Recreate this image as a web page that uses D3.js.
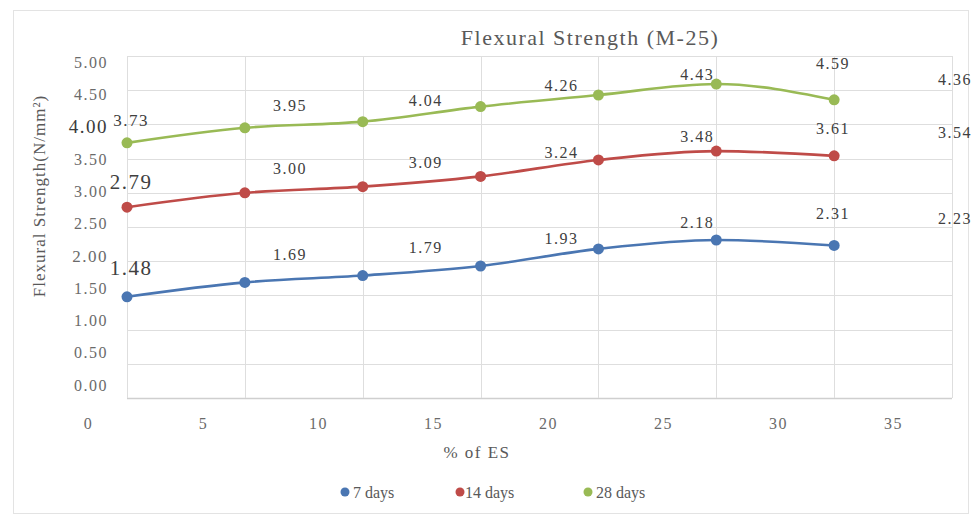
<!DOCTYPE html>
<html>
<head>
<meta charset="utf-8">
<script src="https://cdn.jsdelivr.net/npm/d3@7"></script>
<style>
  html, body { margin: 0; padding: 0; background: #fff; }
  svg { display: block; }
</style>
</head>
<body>
<svg id="chart" width="971" height="515" font-family="'Liberation Serif', 'DejaVu Serif', serif"></svg>
<script>
// Percentage of ES replacement
const esPercent = [0, 5, 10, 15, 20, 25, 30];
// Flexural strength (N/mm²) at each curing age
const days7  = [1.48, 1.69, 1.79, 1.93, 2.18, 2.31, 2.23];
const days14 = [2.79, 3.00, 3.09, 3.24, 3.48, 3.61, 3.54];
const days28 = [3.73, 3.95, 4.04, 4.26, 4.43, 4.59, 4.36];
const seriesNames = ["7 days", "14 days", "28 days"];
const xTickValues = [0, 5, 10, 15, 20, 25, 30, 35];
const yTickValues = [0, 0.5, 1, 1.5, 2, 2.5, 3, 3.5, 4, 4.5, 5];

const FONT = "'Liberation Serif', 'DejaVu Serif', serif";
const colors = ["#4a76b2", "#bf4b48", "#99ba55"];
const series = [days7, days14, days28].map((vals, k) => ({
  name: seriesNames[k],
  color: colors[k],
  points: vals.map((v, i) => ({ i, x: esPercent[i], v }))
}));

const svg = d3.select("#chart");

// outer chart frame
svg.append("rect")
  .attr("x", 13.5).attr("y", 10.5).attr("width", 955).attr("height", 503)
  .attr("fill", "#fff").attr("stroke", "#e3e3e3");

// plot scales
const x = d3.scaleLinear().domain([0, 35]).range([127, 952]);
const y = d3.scaleLinear().domain([0, 5]).range([398, 56]);
// text layer scales (tick labels and data labels sit on their own offsets)
const xTickText = d3.scaleLinear().domain([0, 35]).range([88, 893]);
const yTickText = d3.scaleLinear().domain([0, 5]).range([385, 62]);
const labelX = d3.scaleLinear().domain([0, 1, 5, 6]).range([131, 290, 833, 955]);
const labelY = d3.scaleLinear().domain([0, 5]).range([365, 37]);

// gridlines
const grid = svg.append("g");
grid.selectAll("line.h").data(yTickValues).join("line")
  .attr("x1", x(0)).attr("x2", x(35))
  .attr("y1", d => Math.round(y(d)) + 0.5).attr("y2", d => Math.round(y(d)) + 0.5)
  .attr("stroke", d => d === 0 ? "#cfcfcf" : "#dedede").attr("stroke-width", d => d === 0 ? 1.5 : 1);
grid.selectAll("line.v").data(xTickValues).join("line")
  .attr("y1", y(0)).attr("y2", y(5))
  .attr("x1", d => Math.round(x(d)) + 0.5).attr("x2", d => Math.round(x(d)) + 0.5)
  .attr("stroke", "#dedede");

// y tick labels
const yAxis = svg.append("g")
  .attr("transform", "translate(108,0)")
  .call(d3.axisLeft(yTickText).tickValues(yTickValues).tickFormat(d3.format(".2f")).tickSize(0).tickPadding(0))
  .attr("font-family", FONT);
yAxis.select(".domain").remove();
yAxis.selectAll("text")
  .attr("fill", d => d === 4 ? "#3a3a3a" : "#6a6a6a")
  .style("font-size", d => d === 4 ? "19px" : d === 2 ? "17px" : "16px")
  .style("letter-spacing", "1.5px");

// x tick labels
const xAxis = svg.append("g")
  .attr("transform", "translate(0,418)")
  .call(d3.axisBottom(xTickText).tickValues(xTickValues).tickFormat(d3.format("d")).tickSize(0).tickPadding(0))
  .attr("font-family", FONT);
xAxis.select(".domain").remove();
xAxis.selectAll("text")
  .attr("fill", "#6a6a6a")
  .style("font-size", "16px")
  .style("letter-spacing", "1.5px");

// series lines
const line = d3.line()
  .x(d => x(d.x))
  .y(d => y(d.v))
  .curve(d3.curveMonotoneX);

const sg = svg.append("g").selectAll("g").data(series).join("g");
sg.append("path")
  .attr("d", d => line(d.points))
  .attr("fill", "none")
  .attr("stroke", d => d.color)
  .attr("stroke-width", 2.6);
sg.selectAll("circle").data(d => d.points.map(p => ({ ...p, color: d.color }))).join("circle")
  .attr("cx", d => x(d.x))
  .attr("cy", d => y(d.v))
  .attr("r", 5.5)
  .attr("fill", d => d.color);

// data labels
sg.selectAll("text.val").data(d => d.points).join("text")
  .attr("class", "val")
  .attr("x", d => labelX(d.i))
  .attr("y", d => labelY(d.v))
  .attr("dy", "0.35em")
  .attr("text-anchor", "middle")
  .attr("fill", "#404040")
  .style("font-size", d => {
    if (d.i !== 0) return "16px";
    return d.v < 3.5 ? "21px" : "17px";
  })
  .style("letter-spacing", "1.5px")
  .text(d => d3.format(".2f")(d.v));

// title
svg.append("text")
  .attr("x", 590).attr("y", 45)
  .attr("text-anchor", "middle")
  .attr("fill", "#595959")
  .style("font-size", "22px")
  .style("letter-spacing", "1.5px")
  .text("Flexural Strength (M-25)");

// axis titles
svg.append("text")
  .attr("transform", "translate(45,196) rotate(-90)")
  .attr("text-anchor", "middle")
  .attr("fill", "#595959")
  .style("font-size", "17px")
  .style("letter-spacing", "1px")
  .text("Flexural Strength(N/mm²)");

svg.append("text")
  .attr("x", 477).attr("y", 458)
  .attr("text-anchor", "middle")
  .attr("fill", "#595959")
  .style("font-size", "17px")
  .style("letter-spacing", "1.5px")
  .text("% of ES");

// legend
const legendX = d3.scaleOrdinal().domain(seriesNames).range([345, 460, 588]);
const lg = svg.append("g").selectAll("g").data(series).join("g")
  .attr("transform", d => `translate(${legendX(d.name)},492)`);
lg.append("circle").attr("r", 4.5).attr("fill", d => d.color);
lg.append("text")
  .attr("x", (d, i) => i === 1 ? 5 : 8).attr("dy", "0.35em")
  .attr("fill", "#595959")
  .style("font-size", "16px")
  .text(d => d.name);
</script>
</body>
</html>
